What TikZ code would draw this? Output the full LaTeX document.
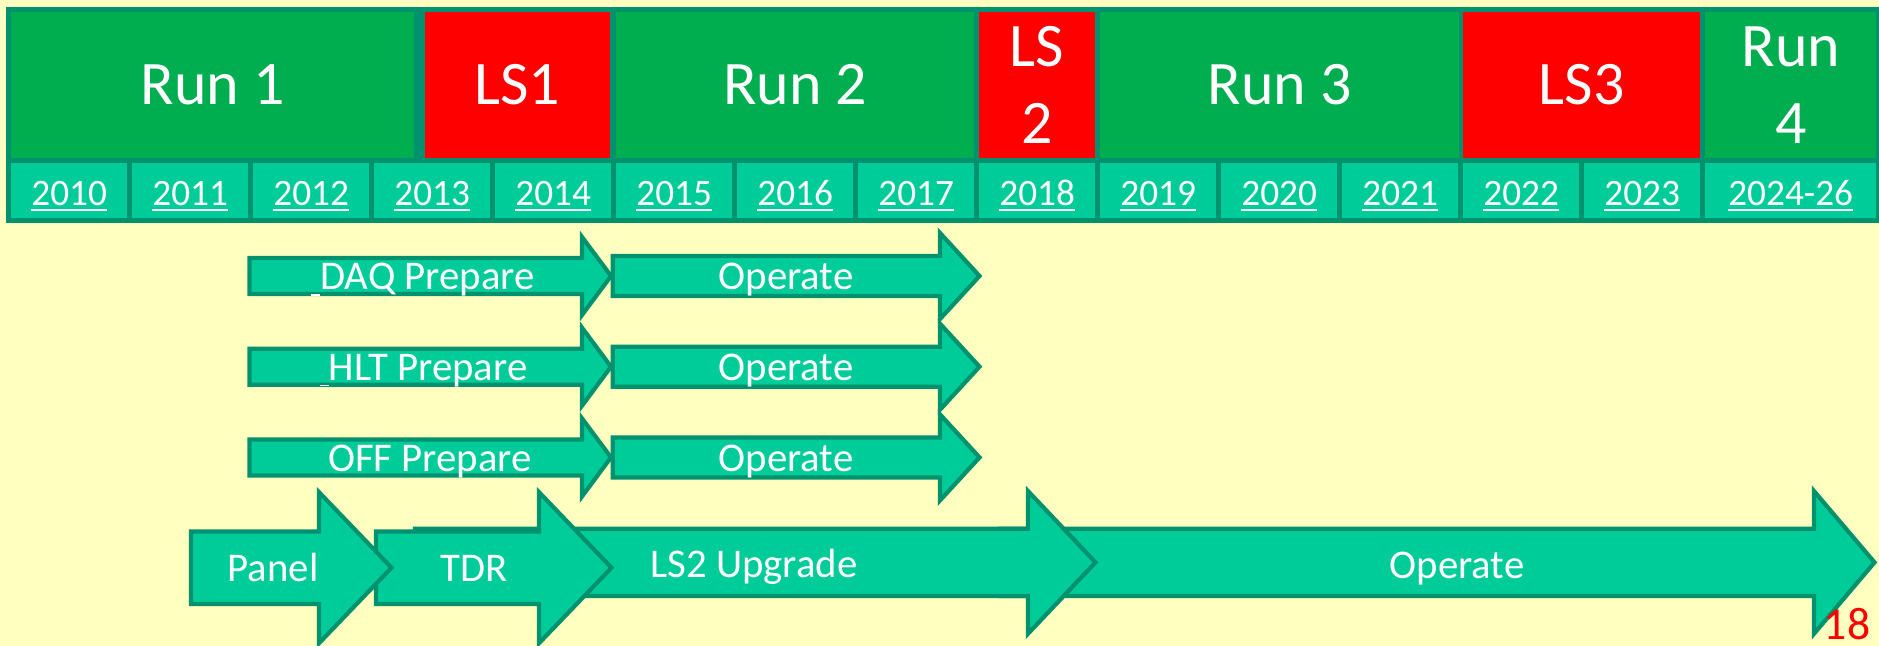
\documentclass[tikz,border=0pt]{standalone}
\usepackage{fontspec}
\setmainfont{Carlito}
\usepackage{tikz}

\definecolor{paper}{HTML}{FFFFC0}
\definecolor{frame}{HTML}{00916E}
\definecolor{rungreen}{HTML}{00AD4F}
\definecolor{shutred}{HTML}{FF0000}
\definecolor{yearteal}{HTML}{00CC99}

% flat block arrow: tail x, head base x, tip x, centre y, shaft half, head half
\newcommand{\flatarrow}[6]{%
  \draw[flow] (#1,#4-#5) -- (#2,#4-#5) -- (#2,#4-#6) -- (#3,#4)
    -- (#2,#4+#6) -- (#2,#4+#5) -- (#1,#4+#5) -- cycle;}

\begin{document}
\begin{tikzpicture}[x=0.01cm,y=-0.01cm,
    cell/.style={inner sep=0pt,outer sep=0pt,text=white},
    runbox/.style={cell,fill=rungreen,minimum height=1.46cm,align=center,
      font=\fontsize{17.6pt}{21.8pt}\selectfont},
    lsbox/.style={runbox,fill=shutred},
    yearbox/.style={cell,fill=yearteal,minimum height=0.55cm,minimum width=1.155cm,
      text height=0.29cm,text depth=0pt,font=\fontsize{10.6pt}{12pt}\selectfont},
    flow/.style={fill=yearteal,draw=frame,line width=1.2pt},
    flowtext/.style={text=white,anchor=base,inner sep=0pt,
      font=\fontsize{11.6pt}{14pt}\selectfont}]
    \clip (0,0) rectangle (1879,646);
    \fill[paper] (0,0) rectangle (1879,646);

    % Run / LS table
    \fill[frame] (6,7) rectangle (1890,223);
    \node[runbox,minimum width=4.026cm] (run1) at (212.7,85) {Run 1};
    \node[lsbox,minimum width=1.855cm] (ls1) at (517.3,85) {LS1};
    \node[runbox,minimum width=3.575cm] (run2) at (795.2,85) {Run 2};
    \node[lsbox,minimum width=1.155cm] (ls2) at (1037.2,85) {LS\\2};
    \node[runbox,minimum width=3.585cm] (run3) at (1279.7,85) {Run 3};
    \node[lsbox,minimum width=2.365cm] (ls3) at (1581.7,85) {LS3};
    \node[runbox,minimum width=1.706cm] (run4) at (1790.7,85) {Run\\4};

    \foreach \yr [count=\i from 0] in {2010,...,2023}
      \node[yearbox] (y\yr) at (69.15+121*\i,190.5) {\underline{\yr}};
    \node[yearbox,minimum width=1.706cm] (y2024) at (1790.7,190.5) {\underline{2024-26}};

    % prepare -> operate
    \foreach \yc in {276,366.7,457.4} {
      \flatarrow{249.6}{582}{611}{\yc}{18}{39}
      \flatarrow{612.7}{940}{979.5}{\yc}{20}{43}
    }
    \node[flowtext] (daqprep) at (423,290) {\underline{\ }DAQ Prepare};
    \node[flowtext] (hltprep) at (423.5,380.7) {\underline{\ }HLT Prepare};
    \node[flowtext] (offprep) at (430,471.4) {OFF Prepare};
    \node[flowtext] (daqop) at (786,290) {Operate};
    \node[flowtext] (hltop) at (786,380.7) {Operate};
    \node[flowtext] (offop) at (786,471.4) {Operate};

    % panel -> TDR -> upgrade -> operate
    \flatarrow{1000}{1814}{1874.5}{562.4}{33.6}{71.3}
    \flatarrow{415}{1028}{1095.5}{562.4}{33.6}{71.3}
    \flatarrow{376}{539}{611.5}{567.7}{36.3}{75.5}
    \flatarrow{191}{319}{391.5}{567.7}{36.3}{75.5}
    \node[flowtext] (panel) at (273,581.7) {Panel};
    \node[flowtext] (tdr) at (474,581.7) {TDR};
    \node[flowtext] (upgrade) at (754,577.3) {LS2 Upgrade};
    \node[flowtext] (operate) at (1457,578) {Operate};

    \node[text=shutred,anchor=base east,inner sep=0pt,
      font=\fontsize{13pt}{15pt}\selectfont] (pagenum) at (1871,639) {18};
\end{tikzpicture}
\end{document}
